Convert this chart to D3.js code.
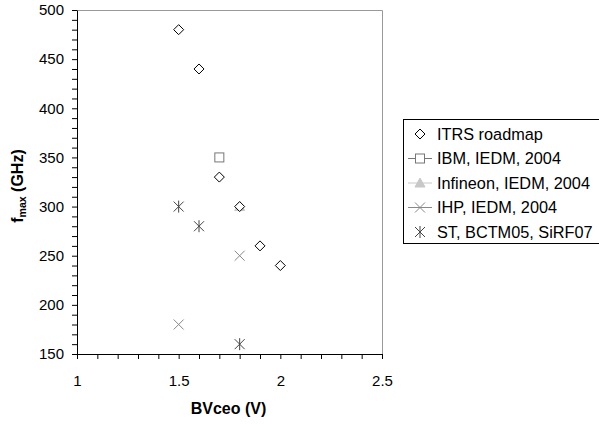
<!DOCTYPE html>
<html>
<head>
<meta charset="utf-8">
<script src="https://cdn.jsdelivr.net/npm/d3@7"></script>
<style>
  body { margin: 0; background: #fff; }
  svg { font-family: "Liberation Sans", Arial, sans-serif; }
</style>
</head>
<body>
<div id="graph"></div>
<script>
// data
var itrsX = [1.5, 1.6, 1.7, 1.8, 1.9, 2.0];
var itrsY = [480, 440, 330, 300, 260, 240];
var ibmX = [1.7];
var ibmY = [350];
var infineonX = [1.8];
var infineonY = [300];
var ihpX = [1.5, 1.8];
var ihpY = [180, 250];
var stX = [1.5, 1.6, 1.8];
var stY = [300, 280, 160];

var xTicks = [1, 1.5, 2, 2.5];
var yTicks = [150, 200, 250, 300, 350, 400, 450, 500];
var seriesNames = ["ITRS roadmap", "IBM, IEDM, 2004", "Infineon, IEDM, 2004", "IHP, IEDM, 2004", "ST, BCTM05, SiRF07"];

(function() {
  var width = 599, height = 424;
  var mLeft = 77, mRight = 382, mTop = 10, mBottom = 354;

  var svg = d3.select("#graph").append("svg")
    .attr("width", width)
    .attr("height", height);

  var xScale = d3.scaleLinear().domain([1, 2.5]).range([mLeft, mRight]);
  var yScale = d3.scaleLinear().domain([150, 500]).range([mBottom, mTop]);

  // plot frame (top / right grey)
  svg.append("path")
    .attr("d", `M${mLeft},${mTop + 0.5}H${mRight + 0.5}V${mBottom}`)
    .attr("fill", "none")
    .attr("stroke", "#999")
    .attr("stroke-width", 1);

  // axes
  var xAxis = svg.append("g")
    .attr("transform", `translate(0,${mBottom})`)
    .call(d3.axisBottom(xScale).tickValues(d3.range(1, 2.501, 0.1)).tickSize(5).tickSizeOuter(0).tickFormat(""));
  xAxis.select(".domain").attr("stroke", "#000");
  svg.append("g")
    .attr("transform", `translate(0,${mBottom})`)
    .call(d3.axisBottom(xScale).tickValues(xTicks).tickSize(0).tickPadding(21).tickFormat(d3.format("")))
    .call(g => g.select(".domain").remove())
    .selectAll("text").attr("font-size", 15).attr("fill", "#000").attr("font-family", "Liberation Sans, Arial, sans-serif");

  var yAxis = svg.append("g")
    .attr("transform", `translate(${mLeft},0)`)
    .call(d3.axisLeft(yScale).tickValues(d3.range(150, 501, 10)).tickSize(5).tickSizeOuter(0).tickFormat(""));
  yAxis.select(".domain").attr("stroke", "#000");
  svg.append("g")
    .attr("transform", `translate(${mLeft},0)`)
    .call(d3.axisLeft(yScale).tickValues(yTicks).tickSize(0).tickPadding(13))
    .call(g => g.select(".domain").remove())
    .selectAll("text").attr("font-size", 15).attr("fill", "#000").attr("font-family", "Liberation Sans, Arial, sans-serif");

  // marker drawing helper
  function marker(g, kind, cx, cy) {
    if (kind === 0) {
      g.append("path").attr("d", `M${cx},${cy-5}L${cx+5},${cy}L${cx},${cy+5}L${cx-5},${cy}Z`)
        .attr("fill", "#fff").attr("stroke", "#000").attr("stroke-width", 1);
    } else if (kind === 1) {
      g.append("rect").attr("x", cx - 4.5).attr("y", cy - 4.5).attr("width", 9).attr("height", 9)
        .attr("fill", "#fff").attr("stroke", "#777").attr("stroke-width", 1);
    } else if (kind === 2) {
      g.append("path").attr("d", `M${cx},${cy-5}L${cx+5},${cy+4}L${cx-5},${cy+4}Z`)
        .attr("fill", "#c8c8c8").attr("stroke", "#c8c8c8");
    } else if (kind === 3) {
      g.append("path").attr("d", `M${cx-5},${cy-5}L${cx+5},${cy+5}M${cx-5},${cy+5}L${cx+5},${cy-5}`)
        .attr("stroke", "#888").attr("stroke-width", 1);
    } else {
      g.append("path").attr("d", `M${cx-5},${cy-5}L${cx+5},${cy+5}M${cx-5},${cy+5}L${cx+5},${cy-5}M${cx},${cy-6}V${cy+6}`)
        .attr("stroke", "#444").attr("stroke-width", 1);
    }
  }

  var series = [
    [itrsX, itrsY], [ibmX, ibmY], [infineonX, infineonY], [ihpX, ihpY], [stX, stY]
  ];
  var pts = svg.append("g");
  // infineon under the ITRS diamond
  [4, 3, 2, 1, 0].forEach(function(k) {
    series[k][0].forEach(function(x, i) {
      marker(pts, k, xScale(x), yScale(series[k][1][i]));
    });
  });

  // axis titles
  svg.append("text")
    .attr("x", (mLeft + mRight) / 2 - 1).attr("y", 414)
    .attr("text-anchor", "middle")
    .attr("font-size", 16).attr("font-weight", "bold")
    .text("BVceo (V)");

  var yt = svg.append("text")
    .attr("transform", `translate(23,186) rotate(-90)`)
    .attr("text-anchor", "middle")
    .attr("font-size", 16).attr("font-weight", "bold");
  yt.append("tspan").text("f");
  yt.append("tspan").attr("font-size", 10.5).attr("dy", 3).text("max");
  yt.append("tspan").attr("dy", -3).text(" (GHz)");

  // legend
  var lg = svg.append("g");
  lg.append("rect").attr("x", 403.5).attr("y", 119.5).attr("width", 200).attr("height", 124)
    .attr("fill", "#fff").attr("stroke", "#000").attr("stroke-width", 1);
  var lineCol = [null, "#777", "#c8c8c8", "#888", null];
  seriesNames.forEach(function(name, k) {
    var cy = 134 + k * 24.5;
    if (lineCol[k]) {
      lg.append("line").attr("x1", 408).attr("x2", 432).attr("y1", cy).attr("y2", cy)
        .attr("stroke", lineCol[k]);
    }
    marker(lg, k, 420, cy);
    lg.append("text").attr("x", 437).attr("y", cy + 5.5)
      .attr("font-size", 16.3).text(name);
  });
})();
</script>
</body>
</html>
